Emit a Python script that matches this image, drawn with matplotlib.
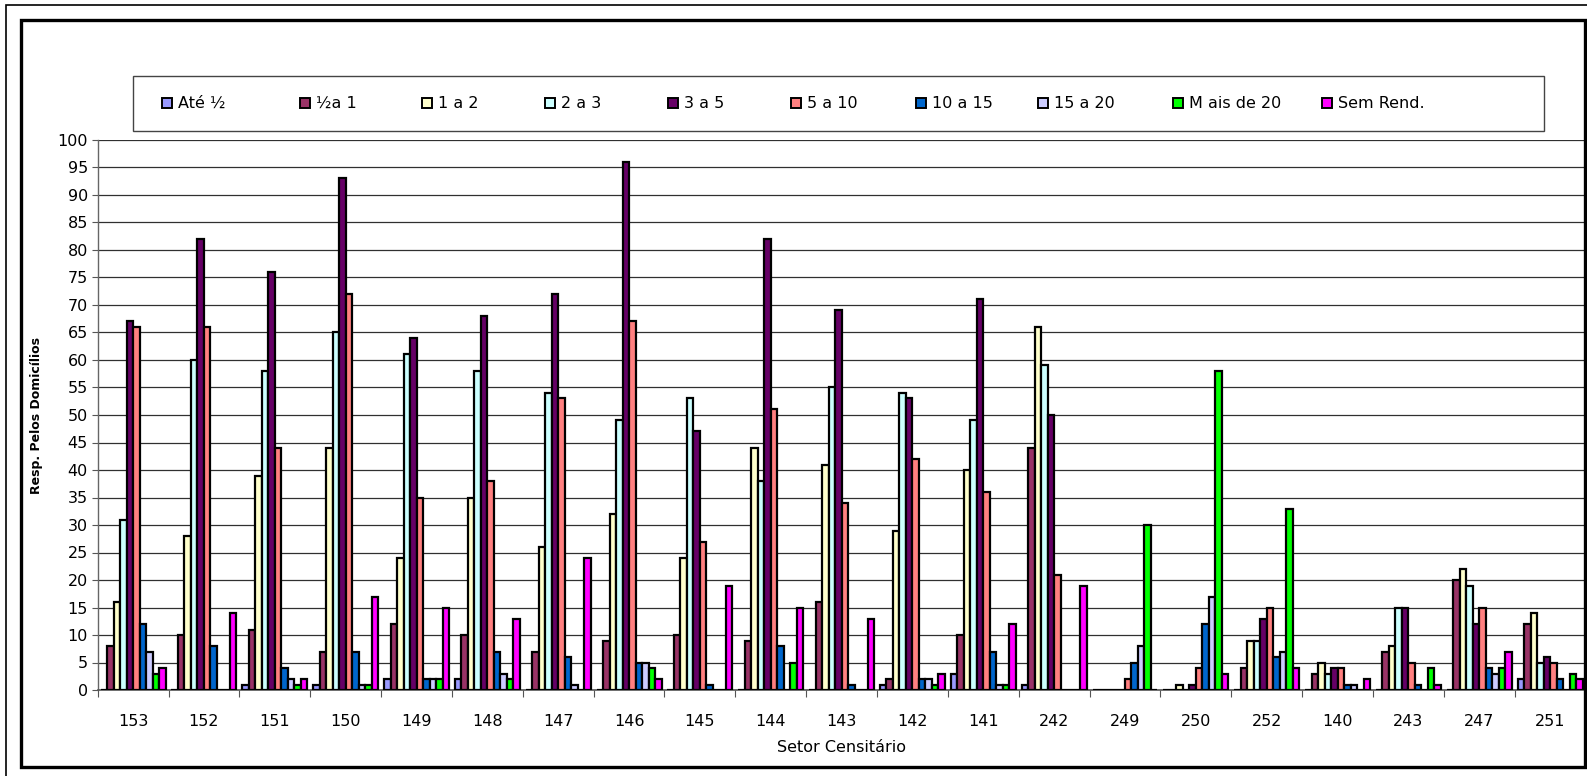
import numpy as np
import matplotlib
matplotlib.use('Agg')
import matplotlib.pyplot as plt
from matplotlib.patches import Rectangle

setores = ['153', '152', '151', '150', '149', '148', '147', '146', '145', '144', '143',
           '142', '141', '242', '249', '250', '252', '140', '243', '247', '251']

faixas = ['Até ½', '½a 1', '1 a 2', '2 a 3', '3 a 5', '5 a 10', '10 a 15', '15 a 20',
          'M ais de 20', 'Sem Rend.']

ate_meio = [0, 0, 1, 1, 2, 2, 0, 0, 0, 0, 0, 1, 3, 1, 0, 0, 0, 0, 0, 0, 2]
meio_a_1 = [8, 10, 11, 7, 12, 10, 7, 9, 10, 9, 16, 2, 10, 44, 0, 0, 4, 3, 7, 20, 12]
de_1_a_2 = [16, 28, 39, 44, 24, 35, 26, 32, 24, 44, 41, 29, 40, 66, 0, 1, 9, 5, 8, 22, 14]
de_2_a_3 = [31, 60, 58, 65, 61, 58, 54, 49, 53, 38, 55, 54, 49, 59, 0, 0, 9, 3, 15, 19, 5]
de_3_a_5 = [67, 82, 76, 93, 64, 68, 72, 96, 47, 82, 69, 53, 71, 50, 0, 1, 13, 4, 15, 12, 6]
de_5_a_10 = [66, 66, 44, 72, 35, 38, 53, 67, 27, 51, 34, 42, 36, 21, 2, 4, 15, 4, 5, 15, 5]
de_10_a_15 = [12, 8, 4, 7, 2, 7, 6, 5, 1, 8, 1, 2, 7, 0, 5, 12, 6, 1, 1, 4, 2]
de_15_a_20 = [7, 0, 2, 1, 2, 3, 1, 5, 0, 0, 0, 2, 1, 0, 8, 17, 7, 1, 0, 3, 0]
mais_de_20 = [3, 0, 1, 1, 2, 2, 0, 4, 0, 5, 0, 1, 1, 0, 30, 58, 33, 0, 4, 4, 3]
sem_rend = [4, 14, 2, 17, 15, 13, 24, 2, 19, 15, 13, 3, 12, 19, 0, 3, 4, 2, 1, 7, 2]

series = [ate_meio, meio_a_1, de_1_a_2, de_2_a_3, de_3_a_5, de_5_a_10,
          de_10_a_15, de_15_a_20, mais_de_20, sem_rend]

# classic office palette
cores = ['#9999FF', '#993366', '#FFFFCC', '#CCFFFF', '#660066', '#FF8080',
         '#0066CC', '#CCCCFF', '#00FF00', '#FF00FF']

W, H = 1587, 776
fig = plt.figure(figsize=(W / 100, H / 100), dpi=100)

def fx(px):
    return px / W

def fy(py):
    return 1 - py / H

# outer thin frame and chart-area frame
fig.add_artist(Rectangle((fx(6), fy(790)), fx(1600), 790 / H - 5 / H, transform=fig.transFigure,
                         fill=False, edgecolor='black', linewidth=1.2))
fig.add_artist(Rectangle((fx(21), fy(767)), fx(1564), (767 - 20) / H, transform=fig.transFigure,
                         fill=False, edgecolor='black', linewidth=2.4))

ax = fig.add_axes([fx(97.7), fy(690), fx(1585.5 - 97.7), (690 - 140) / H])

n = len(series)
largura = 0.0917
x = np.arange(len(setores))
for j, (vals, cor) in enumerate(zip(series, cores)):
    ax.bar(x + (j - (n - 1) / 2) * largura, vals, width=largura, color=cor,
           edgecolor='black', linewidth=1.6, zorder=3)

ax.set_xlim(-0.5, len(setores) - 0.5)
ax.set_ylim(0, 100)
ax.set_yticks(np.arange(0, 101, 5))
ax.yaxis.grid(True, color='#303030', linewidth=0.9, zorder=0)
ax.tick_params(axis='y', direction='out', length=4, width=0.8, color='#555555',
               labelsize=11.5, pad=3)

ax.set_xticks(x)
ax.set_xticklabels(setores)
ax.set_xticks(np.arange(-0.5, len(setores), 1), minor=True)
ax.tick_params(axis='x', which='major', length=0, labelsize=11.5, pad=17)
ax.tick_params(axis='x', which='minor', direction='out', length=5, width=0.8, color='#555555')

for lado in ['top', 'right']:
    ax.spines[lado].set_visible(False)
ax.spines['left'].set_color('#666666')
ax.spines['bottom'].set_color('#555555')
ax.spines['left'].set_linewidth(1.0)
ax.spines['bottom'].set_linewidth(1.2)

ax.set_xlabel('Setor Censitário', fontsize=11.5, labelpad=8)
fig.text(fx(37), fy(415), 'Resp. Pelos Domicílios', rotation=90, ha='center', va='center',
         fontsize=9, fontweight='bold')

# legend box drawn by hand so the entries sit at fixed spacing
fig.add_artist(Rectangle((fx(133), fy(131)), fx(1544 - 133), (131 - 76) / H,
                         transform=fig.transFigure, fill=True, facecolor='white',
                         edgecolor='#444444', linewidth=1.0))
pos_legenda = [162, 300, 422, 545, 668, 791, 916, 1038, 1173, 1322]
for px, cor, nome in zip(pos_legenda, cores, faixas):
    fig.add_artist(Rectangle((fx(px), fy(108)), fx(10), 10 / H, transform=fig.transFigure,
                             facecolor=cor, edgecolor='black', linewidth=1.4))
    fig.text(fx(px + 16), fy(103), nome, ha='left', va='center', fontsize=11.5)

fig.savefig('out.png', dpi=100)
